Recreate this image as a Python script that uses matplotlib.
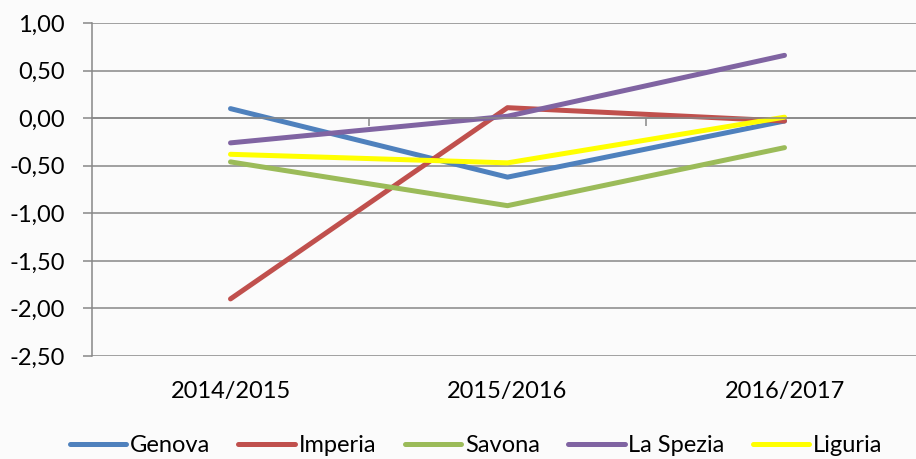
import matplotlib
matplotlib.use("Agg")
import matplotlib.pyplot as plt
from matplotlib.ticker import FixedLocator, FuncFormatter

years = ["2014/2015", "2015/2016", "2016/2017"]
genova = [0.10, -0.62, -0.03]
imperia = [-1.90, 0.11, -0.03]
savona = [-0.46, -0.92, -0.31]
la_spezia = [-0.26, 0.02, 0.66]
liguria = [-0.38, -0.47, 0.01]

series = [
    ("Genova", genova, "#4F81BD"),
    ("Imperia", imperia, "#C0504D"),
    ("Savona", savona, "#9BBB59"),
    ("La Spezia", la_spezia, "#8064A2"),
    ("Liguria", liguria, "#FFFF00"),
]
yticks = [1.0, 0.5, 0.0, -0.5, -1.0, -1.5, -2.0, -2.5]

plt.rcParams["font.family"] = ["Lato", "DejaVu Sans"]
grey = "#878787"
fs = 17

fig = plt.figure(figsize=(9.16, 4.59), dpi=100)
fig.patch.set_facecolor("#fbfbfb")
W, H = 916, 459
ax = fig.add_axes([92 / W, 1 - 356 / H, (923 - 92) / W, (356 - 23) / H])
ax.set_facecolor("none")

x = list(range(len(years)))
for name, vals, col in series:
    ax.plot(x, vals, color=col, lw=3.6, label=name, solid_capstyle="round")

ax.set_xlim(-0.5, len(years) - 0.5)
ax.set_ylim(-2.5, 1.0)
ax.set_yticks(yticks)
ax.yaxis.set_major_formatter(FuncFormatter(lambda v, p: f"{v:.2f}".replace(".", ",")))
ax.grid(axis="y", color=grey, lw=1.1)
ax.set_axisbelow(True)

ax.set_xticks(x)
ax.set_xticklabels(years)
ax.xaxis.set_minor_locator(FixedLocator([0.5, 1.5]))

for s in ["right", "bottom"]:
    ax.spines[s].set_visible(False)
ax.spines["left"].set_color(grey)
ax.spines["left"].set_linewidth(1.1)
ax.spines["top"].set_position(("data", 0))
ax.spines["top"].set_color(grey)
ax.spines["top"].set_linewidth(1.1)

ax.tick_params(axis="y", which="major", length=6.5, width=1.1, color=grey,
               pad=13, labelsize=fs)
ax.tick_params(axis="x", which="major", bottom=False, top=False, length=0,
               pad=18, labelsize=fs)
ax.tick_params(axis="x", which="minor", bottom=False, top=True, direction="in",
               length=6, width=1.1, color=grey)

fig.legend(loc="center", bbox_to_anchor=(476 / W, 1 - 446 / H), ncol=5,
           frameon=False, fontsize=fs, handlelength=2.4, handletextpad=0.15,
           columnspacing=1.2)

fig.savefig("out.png", dpi=100, facecolor=fig.get_facecolor())
